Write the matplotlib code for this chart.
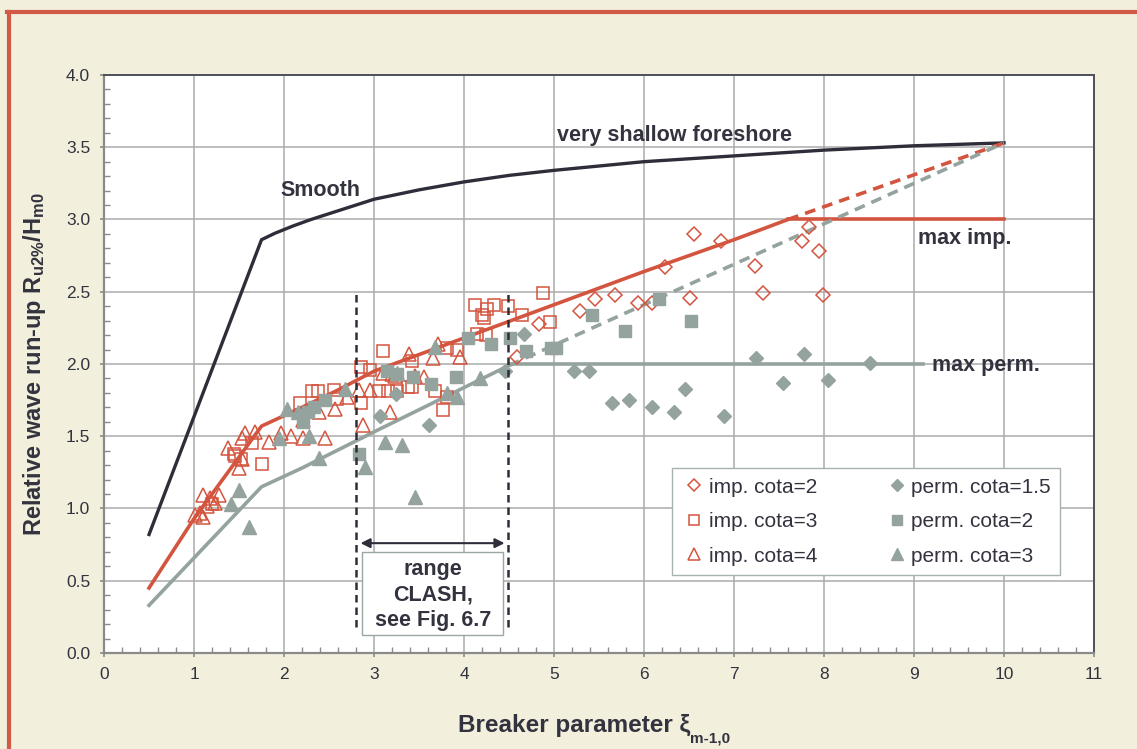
import matplotlib
matplotlib.use('Agg')
import matplotlib.pyplot as plt
import matplotlib.ticker as ticker
from matplotlib.lines import Line2D
from matplotlib.patches import Rectangle

plt.rcParams['font.family'] = ['Liberation Sans', 'DejaVu Sans']
plt.rcParams['mathtext.fontset'] = 'custom'
plt.rcParams['mathtext.rm'] = 'Liberation Sans'
plt.rcParams['mathtext.bf'] = 'Liberation Sans:bold'
plt.rcParams['mathtext.it'] = 'Liberation Sans:italic'

# Kleuren
cream = '#F2F0DC'
red = '#D4553F'
grey = '#95A39E'
dark = '#2E2E3A'
txt = '#33333F'

# Lijnen (formules)
smooth_x = [0.5, 1.75, 1.9, 2.1, 2.3, 2.6, 3.0, 3.5, 4.0, 4.5, 5.0, 5.5, 6, 7, 8, 9, 10]
smooth_y = [0.82, 2.86, 2.905, 2.955, 3.0, 3.06, 3.14, 3.205, 3.26, 3.305, 3.34, 3.37, 3.40, 3.44, 3.48, 3.51, 3.53]
imp_x = [0.5, 1.0, 1.47, 1.75, 2.2, 2.6, 3, 4, 5, 6, 7, 7.6]
imp_y = [0.45, 0.93, 1.33, 1.57, 1.70, 1.82, 1.95, 2.18, 2.41, 2.64, 2.86, 3.0]
imp_dash_x = [7.6, 10]
imp_dash_y = [3.0, 3.53]
imp_max_x = [7.6, 10]
imp_max_y = [3.0, 3.0]
perm_x = [0.5, 1.75, 2.2, 3.0, 4.5]
perm_y = [0.33, 1.15, 1.28, 1.53, 1.99]
perm_dash_x = [4.5, 10]
perm_dash_y = [1.99, 3.53]
perm_max_x = [4.5, 9.1]
perm_max_y = [2.0, 2.0]

# Metingen
imp2_x = [4.59, 4.83, 5.29, 5.45, 5.68, 5.93, 6.09, 6.23, 6.51, 6.56, 6.85, 7.23, 7.32, 7.76, 7.83, 7.94, 7.99]
imp2_y = [2.05, 2.28, 2.37, 2.45, 2.48, 2.42, 2.42, 2.67, 2.46, 2.90, 2.85, 2.68, 2.49, 2.85, 2.95, 2.78, 2.48]
imp3_x = [1.20, 1.44, 1.45, 1.52, 1.64, 1.75, 2.18, 2.31, 2.38, 2.55, 2.59, 2.86, 2.96, 2.86, 3.05, 3.10,
          3.16, 3.25, 3.38, 3.42, 3.42, 3.68, 3.77, 3.81, 3.81, 3.92, 4.12, 4.33, 4.25, 4.20, 4.22, 4.49,
          4.64, 4.88, 4.96, 4.14, 4.24]
imp3_y = [1.03, 1.38, 1.36, 1.34, 1.45, 1.31, 1.73, 1.81, 1.81, 1.82, 1.76, 1.98, 1.96, 1.73, 1.81, 2.09,
          1.81, 1.81, 1.84, 2.02, 1.84, 1.81, 1.68, 1.77, 2.11, 2.10, 2.41, 2.41, 2.38, 2.34, 2.32, 2.40,
          2.34, 2.49, 2.29, 2.21, 2.20]
imp4_x = [1.01, 1.07, 1.10, 1.10, 1.14, 1.18, 1.23, 1.28, 1.38, 1.50, 1.53, 1.53, 1.57, 1.68, 1.83, 1.97,
          2.08, 2.21, 2.21, 2.46, 2.39, 2.57, 2.70, 2.83, 2.88, 2.96, 3.10, 3.20, 3.18, 3.23, 3.39, 3.46,
          3.55, 3.66, 3.71, 3.96]
imp4_y = [0.955, 0.97, 0.94, 1.09, 1.02, 1.07, 1.04, 1.09, 1.42, 1.28, 1.34, 1.49, 1.52, 1.53, 1.46, 1.52,
          1.50, 1.49, 1.61, 1.49, 1.67, 1.69, 1.77, 1.82, 1.58, 1.82, 1.94, 1.93, 1.67, 1.92, 2.07, 1.92,
          1.91, 2.04, 2.14, 2.05]
perm15_x = [3.07, 3.24, 3.61, 4.46, 4.67, 5.22, 5.39, 5.64, 5.83, 6.09, 6.33, 6.45, 6.89, 7.24, 7.54, 7.78, 8.04, 8.51]
perm15_y = [1.64, 1.79, 1.58, 1.95, 2.21, 1.95, 1.95, 1.73, 1.75, 1.70, 1.67, 1.83, 1.64, 2.04, 1.87, 2.07, 1.89, 2.01]
perm2_x = [2.21, 2.27, 2.33, 2.46, 2.83, 3.14, 3.25, 3.43, 3.63, 3.91, 4.04, 4.30, 4.51, 4.69, 4.97, 5.02,
           5.42, 5.79, 6.17, 6.52]
perm2_y = [1.60, 1.67, 1.70, 1.75, 1.38, 1.95, 1.93, 1.91, 1.86, 1.91, 2.18, 2.14, 2.18, 2.09, 2.11, 2.11,
           2.34, 2.23, 2.45, 2.30]
perm3_x = [1.41, 1.50, 1.61, 1.94, 2.03, 2.16, 2.28, 2.39, 2.68, 2.90, 3.12, 3.31, 3.25, 3.46, 3.68, 3.81, 3.92, 4.18]
perm3_y = [1.03, 1.13, 0.87, 1.49, 1.69, 1.67, 1.50, 1.35, 1.83, 1.29, 1.46, 1.44, 1.94, 1.08, 2.12, 1.80, 1.77, 1.90]

fig = plt.figure(figsize=(11.37, 7.49), dpi=100, facecolor=cream)
ax = fig.add_axes([0.0915, 0.1282, 0.8707, 0.7717])
ax.set_facecolor('white')

# lijnen
ax.plot(smooth_x, smooth_y, color=dark, lw=2.4, zorder=3)
ax.plot(imp_x, imp_y, color=red, lw=2.6, zorder=3)
ax.plot(imp_dash_x, imp_dash_y, color=red, lw=2.6, ls=(0, (3, 2)), zorder=3)
ax.plot(imp_max_x, imp_max_y, color=red, lw=2.6, zorder=3)
ax.plot(perm_x, perm_y, color=grey, lw=2.6, zorder=3)
ax.plot(perm_dash_x, perm_dash_y, color=grey, lw=2.6, ls=(0, (3, 2)), zorder=3)
ax.plot(perm_max_x, perm_max_y, color=grey, lw=2.6, zorder=3)

# punten
ax.plot(imp2_x, imp2_y, 'D', ms=7.5, mfc='none', mec=red, mew=1.1, ls='none', zorder=4)
ax.plot(imp3_x, imp3_y, 's', ms=9, mfc='none', mec=red, mew=1.1, ls='none', zorder=4)
ax.plot(imp4_x, imp4_y, '^', ms=10, mfc='none', mec=red, mew=1.1, ls='none', zorder=4)
ax.plot(perm15_x, perm15_y, 'D', ms=7.5, color=grey, ls='none', zorder=5)
ax.plot(perm2_x, perm2_y, 's', ms=9, color=grey, ls='none', zorder=5)
ax.plot(perm3_x, perm3_y, '^', ms=10, color=grey, ls='none', zorder=5)

# CLASH bereik
for xv in [2.8, 4.49]:
    ax.plot([xv, xv], [0.18, 2.51], color=dark, lw=1.8, ls=(0, (3, 2)), zorder=6)
ax.annotate('', xy=(2.85, 0.76), xytext=(4.45, 0.76),
            arrowprops=dict(arrowstyle='<|-|>', color=dark, lw=1.5, mutation_scale=14,
                            shrinkA=0, shrinkB=0), zorder=6)
ax.add_patch(Rectangle((2.87, 0.125), 1.56, 0.575, facecolor='white', edgecolor='#9AA8A2',
                       lw=1.0, zorder=6))
ax.text(3.655, 0.40, 'range\nCLASH,\nsee Fig. 6.7', ha='center', va='center', fontsize=15.5,
        fontweight='bold', color=txt, linespacing=1.27, zorder=7)

# teksten
ax.text(2.4, 3.2, 'Smooth', ha='center', va='center', fontsize=15.5, fontweight='bold', color=txt)
ax.text(6.34, 3.58, 'very shallow foreshore', ha='center', va='center', fontsize=15.5,
        fontweight='bold', color=txt)
ax.text(9.04, 2.87, 'max imp.', ha='left', va='center', fontsize=15.5, fontweight='bold', color=txt)
ax.text(9.2, 1.99, 'max perm.', ha='left', va='center', fontsize=15.5, fontweight='bold', color=txt)

# assen
ax.set_xlim(0, 11)
ax.set_ylim(0, 4)
ax.xaxis.set_major_locator(ticker.MultipleLocator(1))
ax.xaxis.set_minor_locator(ticker.MultipleLocator(0.2))
ax.yaxis.set_major_locator(ticker.MultipleLocator(0.5))
ax.yaxis.set_minor_locator(ticker.MultipleLocator(0.1))
ax.yaxis.set_major_formatter(ticker.FormatStrFormatter('%.1f'))
ax.grid(which='major', color='#ABABAB', lw=1.1, zorder=0)
ax.set_axisbelow(True)
ax.tick_params(which='major', direction='out', length=3, width=1.2, color='#8A8A8A',
               labelsize=12.5, labelcolor=txt, pad=7)
ax.tick_params(which='minor', direction='in', length=4, width=1, color='#8A8A8A')
for s in ['left', 'bottom']:
    ax.spines[s].set_color('#8A8A8A')
    ax.spines[s].set_linewidth(1.6)
for s in ['top', 'right']:
    ax.spines[s].set_color('#50505A')
    ax.spines[s].set_linewidth(1.4)

fig.text(0.030, 0.514, r'Relative wave run-up R$_{\mathbf{u2\%}}$/H$_{\mathbf{m0}}$', rotation=90,
         ha='center', va='center', fontsize=17, fontweight='bold', color=txt)
xl = fig.text(0.4028, 0.032, 'Breaker parameter ξ', ha='left', va='center',
              fontsize=17.5, fontweight='bold', color=txt)
fig.canvas.draw()
ax.annotate('m-1,0', xy=(1.0, 0.22), xycoords=xl, ha='left', va='top', fontsize=11,
            fontweight='bold', color=txt, annotation_clip=False)

# legenda
handles = [
    Line2D([], [], marker='D', ms=6, mfc='none', mec=red, mew=1.1, ls='none'),
    Line2D([], [], marker='s', ms=7.5, mfc='none', mec=red, mew=1.1, ls='none'),
    Line2D([], [], marker='^', ms=8, mfc='none', mec=red, mew=1.1, ls='none'),
    Line2D([], [], marker='D', ms=6, color=grey, ls='none'),
    Line2D([], [], marker='s', ms=7.5, color=grey, ls='none'),
    Line2D([], [], marker='^', ms=8, color=grey, ls='none'),
]
labels = ['imp. cota=2', 'imp. cota=3', 'imp. cota=4',
          'perm. cota=1.5', 'perm. cota=2', 'perm. cota=3']
leg = ax.legend(handles, labels, ncol=2, loc='lower left', bbox_to_anchor=(0.574, 0.135, 0.392, 0.185),
                mode='expand', borderaxespad=0, fontsize=15, frameon=True, fancybox=False, framealpha=1,
                edgecolor='#A9B3AE', handlelength=1.2, handletextpad=0.1, labelspacing=0.74,
                borderpad=0.45, columnspacing=1.0)
leg.get_frame().set_linewidth(1.0)
for t in leg.get_texts():
    t.set_color(txt)
leg.set_zorder(8)

# rode rand
fig.add_artist(Line2D([0.0062, 1.0], [0.9846, 0.9846], color='#D05A46', lw=3, transform=fig.transFigure))
fig.add_artist(Line2D([0.0075, 0.0075], [0.0, 0.9846], color='#D05A46', lw=3, transform=fig.transFigure))

fig.savefig('out.png', dpi=100, facecolor=cream)
